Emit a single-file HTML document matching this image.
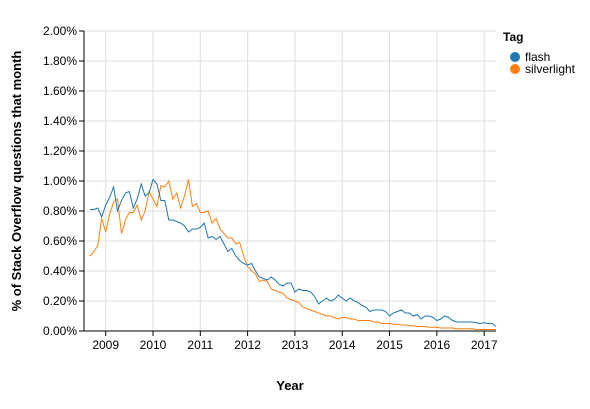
<!DOCTYPE html>
<html><head><meta charset="utf-8"><style>
body{margin:0;background:#fff;width:590px;height:404px;overflow:hidden}
svg text{font-family:"Liberation Sans",sans-serif;fill:#000}
</style></head><body>
<svg id="chart" width="590" height="404" xmlns="http://www.w3.org/2000/svg">
<g id="grid"></g>
<g id="series"></g>
<g id="axes"></g>
<text x="290" y="390" text-anchor="middle" font-size="13" font-weight="bold">Year</text>
<text transform="translate(21,181) rotate(-90)" text-anchor="middle" font-size="13" font-weight="bold">% of Stack Overflow questions that month</text>
<g>
<text x="503" y="41" font-size="12" font-weight="bold">Tag</text>
<g><circle cx="515" cy="57" r="5" fill="#1f77b4"/><text x="525" y="61" font-size="12">flash</text></g>
<g><circle cx="515" cy="69" r="5" fill="#ff7f0e"/><text x="525" y="73" font-size="12">silverlight</text></g>
</g>
</svg>
<script>
// monthly data starting Sep 2008 (index 0)
const startYear = 2008 + 8/12;
const flash = [0.81,0.81,0.82,0.76,0.84,0.89,0.96,0.80,0.87,0.92,0.93,0.82,0.88,0.98,0.90,0.92,1.01,
0.98,0.87,0.87,0.74,0.74,0.73,0.72,0.70,0.66,0.68,0.68,0.69,0.72,0.62,0.63,0.61,0.63,0.58,0.53,0.55,0.50,
0.47,0.45,0.44,0.45,0.40,0.36,0.35,0.34,0.36,0.34,0.31,0.30,0.32,0.32,0.26,0.28,0.27,0.27,0.26,0.23,0.18,0.20,0.22,0.20,0.21,0.24,0.22,0.20,0.22,0.20,0.19,0.17,0.16,0.13,0.14,0.14,0.14,0.13,0.10,0.12,0.13,0.14,0.12,0.12,0.10,0.11,0.08,0.10,0.10,0.09,0.07,0.08,0.10,0.09,0.07,0.06,0.06,0.06,0.06,0.06,0.055,0.05,0.055,0.05,0.05,0.03];
const silverlight = [0.50,0.53,0.57,0.75,0.66,0.78,0.86,0.88,0.65,0.74,0.79,0.79,0.84,0.74,0.80,0.93,0.88,
0.83,0.97,0.96,1.00,0.88,0.92,0.82,0.90,1.01,0.83,0.85,0.79,0.79,0.80,0.72,0.75,0.68,0.65,0.62,0.62,0.58,
0.59,0.50,0.43,0.40,0.38,0.33,0.34,0.33,0.28,0.27,0.26,0.25,0.22,0.21,0.20,0.19,0.16,0.15,0.14,0.13,0.12,0.11,0.10,0.10,0.09,0.08,0.09,0.09,0.08,0.08,0.07,0.07,0.07,0.07,0.06,0.06,0.05,0.05,0.05,0.045,0.045,0.04,0.04,0.035,0.035,0.03,0.03,0.03,0.025,0.025,0.025,0.02,0.02,0.02,0.02,0.015,0.015,0.015,0.015,0.015,0.01,0.01,0.01,0.01,0.01,0.01];
const yTicks = [0,0.2,0.4,0.6,0.8,1.0,1.2,1.4,1.6,1.8,2.0];
const xTicks = [2009,2010,2011,2012,2013,2014,2015,2016,2017];

const NS="http://www.w3.org/2000/svg";
const X0=84,X1=496,Y0=331,Y1=31;
const d0=2008+6.5/12, d1=2017.25;
const xs=t=>X0+(t-d0)/(d1-d0)*(X1-X0);
const ys=v=>Y0-(v/2.0)*(Y0-Y1);
function mk(tag,attrs,parent){const e=document.createElementNS(NS,tag);for(const k in attrs)e.setAttribute(k,attrs[k]);parent.appendChild(e);return e;}
const grid=document.getElementById('grid'),axes=document.getElementById('axes'),ser=document.getElementById('series');
yTicks.forEach(v=>{
  const l=mk('line',{x1:X0,x2:X1,y1:ys(v),y2:ys(v),stroke:'#ddd','stroke-width':1},grid);
  
  
  mk('line',{x1:X0-5,x2:X0,y1:ys(v),y2:ys(v),stroke:'#000'},axes);
  const t=mk('text',{x:X0-7,y:ys(v)+4,'text-anchor':'end','font-size':12},axes);
  t.textContent=v.toFixed(2)+'%';
  
  
});
xTicks.forEach(yr=>{
  const l=mk('line',{x1:xs(yr),x2:xs(yr),y1:Y1,y2:Y0,stroke:'#ddd'},grid);
  
  
  mk('line',{x1:xs(yr),x2:xs(yr),y1:Y0,y2:Y0+5,stroke:'#000'},axes);
  const t=mk('text',{x:xs(yr),y:Y0+18,'text-anchor':'middle','font-size':12},axes);
  t.textContent=yr;
  
  
});
mk('line',{x1:X0,x2:X0,y1:Y1,y2:Y0,stroke:'#000'},axes);
mk('line',{x1:X0,x2:X1,y1:Y0,y2:Y0,stroke:'#000'},axes);
function line(data,color,name){
  const pts=data.map((v,i)=>xs(startYear+i/12).toFixed(1)+','+ys(v).toFixed(1)).join(' ');
  const p=mk('polyline',{points:pts,fill:'none',stroke:color,'stroke-width':1},ser);
  
  
}
line(silverlight,'#ff7f0e','silverlight-line');
line(flash,'#1f77b4','flash-line');
</script>
</body></html>
